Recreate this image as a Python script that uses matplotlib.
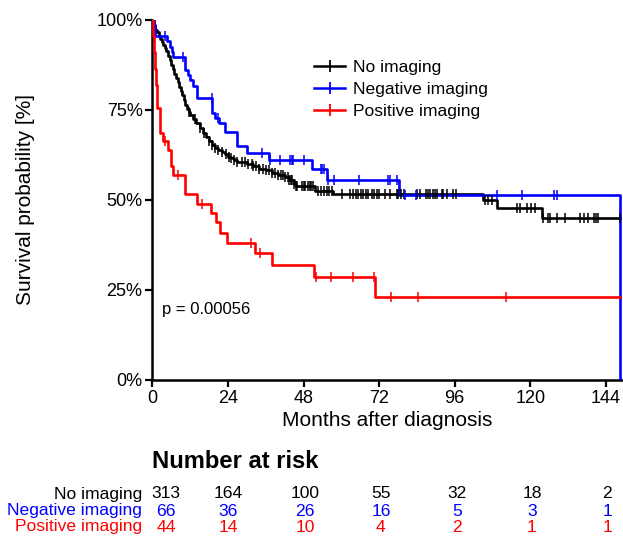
import numpy as np
import matplotlib
matplotlib.use("Agg")
import matplotlib.pyplot as plt
from matplotlib.lines import Line2D

plt.rcParams['font.family'] = ['Liberation Sans', 'DejaVu Sans']

# --- survival curves (months, %) ---
no_t = [0, 0.5, 1, 1.5, 2, 2.5, 3, 3.5, 4, 4.5, 5, 5.5, 6, 6.5, 7, 7.5, 8, 8.5,
        9, 9.5, 10, 10.5, 11, 11.5, 12, 13, 14, 15, 16, 17, 18, 19, 20, 21, 22,
        23, 24, 25, 26, 27, 28, 30, 32, 34, 36, 38, 40, 42, 43.5, 45, 45.5,
        51.7, 57.5, 105, 109.3, 123.6, 148.5]
no_s = [100, 98.5, 97.2, 96.5, 95.5, 94.6, 93.8, 92.9, 92, 91.2, 90, 88.7,
        87.3, 86.2, 85, 83.8, 82.6, 81.4, 80.2, 79, 77.6, 76.4, 75.3, 74.4,
        73.5, 72.3, 71.2, 69.8, 68.6, 67.3, 66.2, 65.3, 64.3, 63.8, 63.2, 62.6,
        61.9, 61.5, 61.1, 60.6, 60.4, 60, 59.4, 58.6, 58.2, 57.5, 57, 56.3,
        55.6, 54.5, 53.7, 52.5, 51.7, 50, 47.7, 44.9, 44.9]
no_cens = [11.5, 13.5, 15, 16.5, 18, 19, 20, 21, 22, 23.5, 24.5, 25, 26, 27,
           28.5, 29.5, 30.5, 31.5, 32, 33, 34, 35, 36, 37, 38, 39, 40, 41,
           41.5, 42, 43, 43.5, 44, 44.3, 45, 45.5, 46, 47.5, 48, 48.5, 49.5,
           50, 50.5, 51, 52.5, 53.5, 54.5, 55.5, 56, 57, 60.1, 62.8, 63.8,
           64.7, 65.4, 66.2, 67, 67.8, 68.6, 69.7, 70.4, 71.2, 72.1, 73.9,
           75.5, 77.6, 78.1, 78.9, 79.9, 83.9, 85, 86.8, 87.6, 88.3, 89, 89.7,
           90.5, 91.9, 92.4, 93.5, 95.6, 96.3, 105.6, 106.7, 107.9, 115.9,
           116.7, 118.9, 120.1, 121.5, 124.1, 125.7, 126.3, 128.4, 131, 135.8,
           137, 138.4, 140.2, 140.9, 141.6, 148.5]

neg_t = [0, 0.4, 0.9, 4.6, 5.6, 6.2, 6.7, 10.4, 11.4, 11.9, 13, 14.3, 19, 19.9,
         21.3, 23.1, 26.8, 30, 37.1, 50.8, 55.4, 78.4, 148.5]
neg_s = [100, 98.5, 95.5, 94, 92.5, 91, 89.6, 86.1, 84.7, 83.3, 81.6, 78.2,
         74.1, 72.7, 71.3, 68.8, 65, 62.9, 60.9, 58.5, 55.6, 51.4, 0]
neg_cens = [4.0, 9.9, 18.9, 21.0, 34.7, 37.4, 40.5, 43.7, 44.4, 44.8, 48.3,
            53.5, 54.0, 54.6, 55.9, 57.8, 65.6, 74.7, 75.5, 77.8, 80.2, 83.7,
            109.3, 117.5, 127.6, 128.6]

pos_t = [0, 0.3, 0.6, 0.9, 1.2, 1.5, 2.3, 3.4, 5, 6, 6.5, 10.4, 14.1, 18.5,
         20.2, 21.5, 23.6, 32.6, 37.9, 51.4, 70.7, 148.5]
pos_s = [100, 95.5, 90.9, 86.4, 81.8, 75.5, 68.5, 66.4, 63.9, 59.3, 56.9,
         51.7, 48.9, 46.3, 43.7, 40.9, 38.1, 35.2, 31.9, 28.7, 23.0, 23.0]
pos_cens = [4.0, 8.3, 15.7, 31.3, 34.2, 51.9, 56.6, 63.8, 70.5, 75.7, 84.4,
            112.4]

groups = ['No imaging', 'Negative imaging', 'Positive imaging']
colors = ['black', 'blue', 'red']

risk_times = [0, 24, 48, 72, 96, 120, 144]
risk_no = [313, 164, 100, 55, 32, 18, 2]
risk_neg = [66, 36, 26, 16, 5, 3, 1]
risk_pos = [44, 14, 10, 4, 2, 1, 1]

W, H = 623, 536
fig = plt.figure(figsize=(W / 100, H / 100), dpi=100)
ax = fig.add_axes([152.3 / W, 1 - 380 / H, (622 - 152.3) / W, (380 - 19.5) / H])

curves = [(no_t, no_s, no_cens), (neg_t, neg_s, neg_cens), (pos_t, pos_s, pos_cens)]
for (t, s, c), col in zip(curves, colors):
    t = np.array(t)
    s = np.array(s)
    ax.step(t, s, where='post', color=col, lw=1.9, zorder=3)
    idx = np.searchsorted(t, np.array(c), side='right') - 1
    ax.plot(c, s[idx], ls='none', marker='|', color=col, ms=7, mew=1.1,
            zorder=4)

ax.set_xlim(0, 149.1)
ax.set_ylim(0, 100)
ax.set_xticks(risk_times)
ax.set_yticks([0, 25, 50, 75, 100])
ax.set_yticklabels(['0%', '25%', '50%', '75%', '100%'])
for sp in ['top', 'right']:
    ax.spines[sp].set_visible(False)
for sp in ['left', 'bottom']:
    ax.spines[sp].set_linewidth(1.8)
ax.tick_params(length=5, width=1.6, labelsize=13, pad=2)
ax.set_xlabel('Months after diagnosis', fontsize=15, labelpad=3)
ax.set_ylabel('Survival probability [%]', fontsize=15, labelpad=44)

ax.text(3, 19.5, 'p = 0.00056', fontsize=12, va='center', ha='left')

handles = [Line2D([], [], color=c, lw=1.8, marker='|', ms=9, mew=1.3)
           for c in colors]
fig.legend(handles, groups, loc='upper left',
           bbox_to_anchor=(298 / W, 1 - 44 / H), frameon=False, fontsize=12.6,
           handlelength=1.8, handletextpad=0.45, labelspacing=0.38)

# --- risk table ---
fig.text(152 / W, 1 - 461 / H, 'Number at risk', fontsize=17.1,
         fontweight='bold', ha='left', va='center')
col_px = [166, 228, 305, 381, 457, 532, 607]
row_px = [494, 511, 527]
for rows, col, ypx, name in zip([risk_no, risk_neg, risk_pos], colors, row_px, groups):
    fig.text(142 / W, 1 - ypx / H, name, color=col, fontsize=12.6,
             ha='right', va='center')
    for xpx, v in zip(col_px, rows):
        fig.text(xpx / W, 1 - ypx / H, str(v), color=col, fontsize=12.6,
                 ha='center', va='center')

fig.savefig('out.png', dpi=100)
